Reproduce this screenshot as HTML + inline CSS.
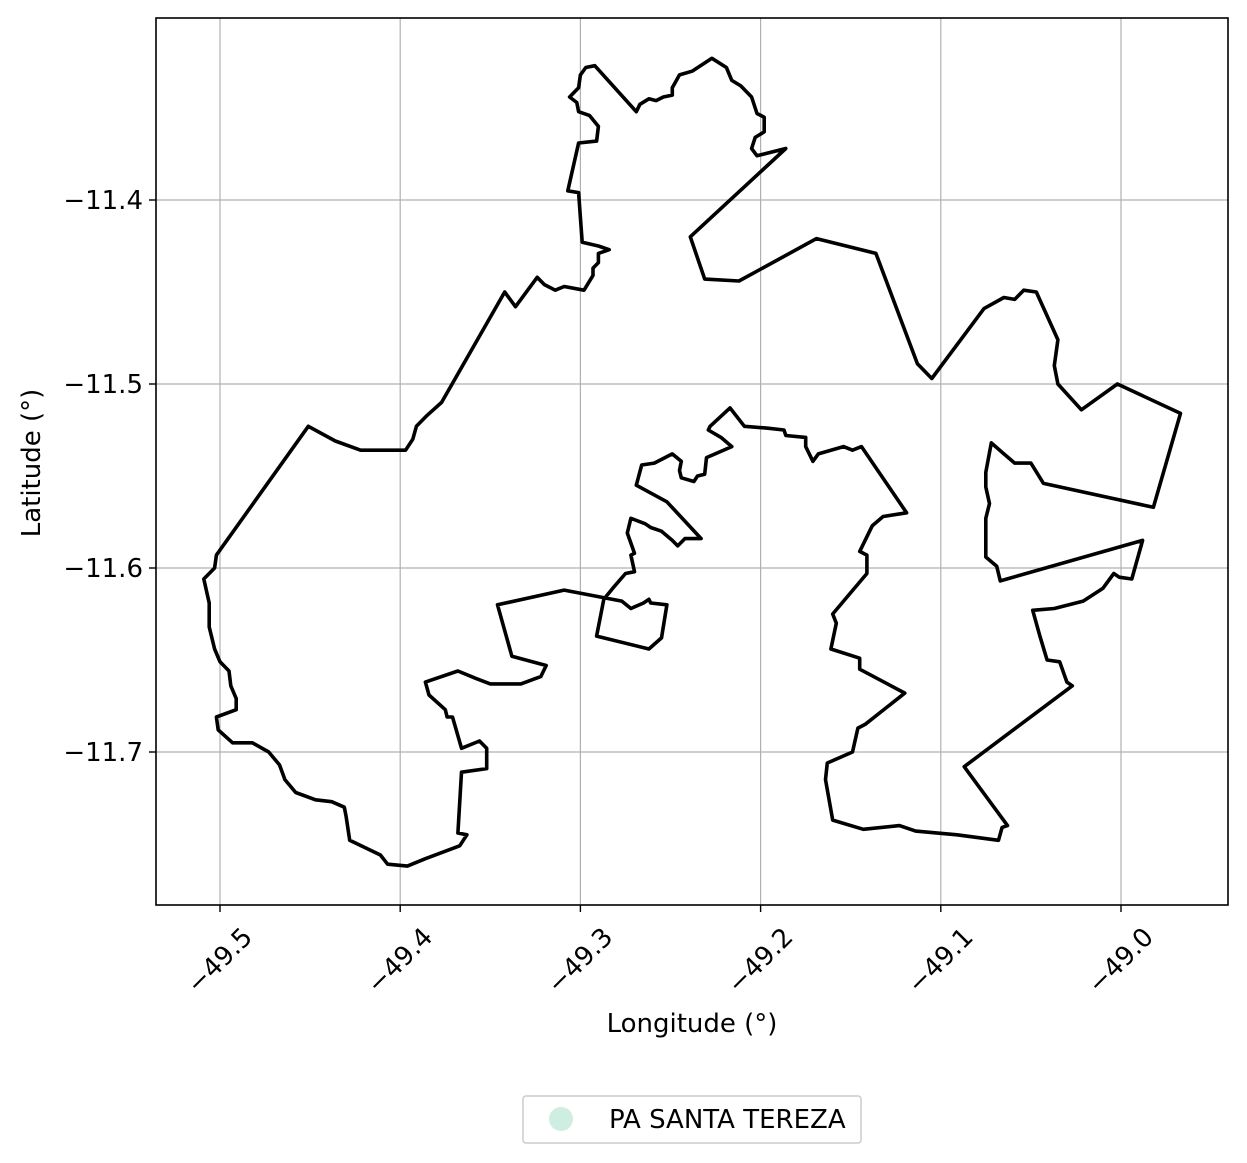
<!DOCTYPE html>
<html><head><meta charset="utf-8"><style>
html,body{margin:0;padding:0;background:#fff;}
svg{display:block;font-family:"DejaVu Sans","Liberation Sans",sans-serif;}
</style></head><body>
<svg id="chart" width="1247" height="1163" viewBox="0 0 1247 1163">
<rect x="0" y="0" width="1247" height="1163" fill="#fff"/>
<g id="grid"></g>
<g id="plot"></g>
<rect x="156" y="18" width="1072" height="887" fill="none" stroke="#000" stroke-width="1.6"/>
<g id="ticks"></g>
<text x="692" y="1032" font-size="26" text-anchor="middle">Longitude (°)</text>
<text x="40" y="463" font-size="26" text-anchor="middle" transform="rotate(-90 40 463)">Latitude (°)</text>
<g>
<rect x="523" y="1096" width="338" height="47" rx="3" fill="#fff" stroke="#ccc" stroke-width="1.5"/>
<circle cx="561" cy="1119" r="12" fill="#cdeee0"/>
<text x="609" y="1128" font-size="26">PA SANTA TEREZA</text>
</g>
</svg>
<script>
const xTicks = [-49.5, -49.4, -49.3, -49.2, -49.1, -49.0];
const xTickLabels = ["−49.5", "−49.4", "−49.3", "−49.2", "−49.1", "−49.0"];
const yTicks = [-11.4, -11.5, -11.6, -11.7];
const yTickLabels = ["−11.4", "−11.5", "−11.6", "−11.7"];
const boundaryLon = [-49.292,-49.269,-49.267,-49.262,-49.258,-49.254,-49.249,-49.249,-49.245,-49.238,-49.227,-49.219,-49.216,-49.211,-49.205,-49.202,-49.198,-49.198,-49.203,-49.205,-49.202,-49.186,-49.239,-49.231,-49.212,-49.169,-49.136,-49.113,-49.105,-49.076,-49.065,-49.059,-49.054,-49.047,-49.035,-49.037,-49.035,-49.022,-49.002,-48.967,-48.982,-49.043,-49.050,-49.059,-49.065,-49.072,-49.075,-49.075,-49.073,-49.075,-49.075,-49.069,-49.067,-48.988,-48.994,-49.001,-49.004,-49.010,-49.021,-49.037,-49.049,-49.045,-49.041,-49.034,-49.030,-49.027,-49.087,-49.063,-49.066,-49.068,-49.091,-49.114,-49.123,-49.143,-49.160,-49.164,-49.163,-49.149,-49.146,-49.142,-49.120,-49.145,-49.145,-49.161,-49.158,-49.160,-49.141,-49.141,-49.145,-49.138,-49.132,-49.119,-49.144,-49.149,-49.154,-49.168,-49.171,-49.175,-49.175,-49.186,-49.187,-49.196,-49.209,-49.217,-49.228,-49.229,-49.222,-49.216,-49.230,-49.231,-49.235,-49.237,-49.244,-49.245,-49.244,-49.249,-49.259,-49.266,-49.269,-49.252,-49.233,-49.242,-49.246,-49.249,-49.255,-49.261,-49.264,-49.272,-49.274,-49.270,-49.272,-49.270,-49.275,-49.282,-49.287,-49.291,-49.262,-49.255,-49.252,-49.261,-49.262,-49.265,-49.272,-49.277,-49.309,-49.346,-49.338,-49.319,-49.322,-49.333,-49.350,-49.358,-49.368,-49.386,-49.384,-49.375,-49.374,-49.371,-49.366,-49.356,-49.352,-49.352,-49.366,-49.368,-49.363,-49.367,-49.386,-49.396,-49.407,-49.411,-49.428,-49.430,-49.431,-49.438,-49.447,-49.458,-49.464,-49.467,-49.473,-49.482,-49.493,-49.501,-49.502,-49.491,-49.491,-49.494,-49.495,-49.500,-49.503,-49.506,-49.506,-49.509,-49.503,-49.502,-49.451,-49.436,-49.422,-49.397,-49.393,-49.391,-49.385,-49.377,-49.342,-49.336,-49.324,-49.320,-49.314,-49.309,-49.298,-49.293,-49.293,-49.290,-49.290,-49.284,-49.290,-49.299,-49.301,-49.307,-49.301,-49.291,-49.290,-49.295,-49.301,-49.302,-49.306,-49.301,-49.300,-49.297];
const boundaryLat = [-11.327,-11.352,-11.348,-11.345,-11.346,-11.344,-11.343,-11.339,-11.332,-11.330,-11.323,-11.328,-11.335,-11.338,-11.344,-11.353,-11.355,-11.363,-11.366,-11.372,-11.376,-11.372,-11.420,-11.443,-11.444,-11.421,-11.429,-11.489,-11.497,-11.459,-11.453,-11.454,-11.449,-11.450,-11.476,-11.490,-11.500,-11.514,-11.500,-11.516,-11.567,-11.554,-11.543,-11.543,-11.538,-11.532,-11.548,-11.556,-11.565,-11.573,-11.594,-11.599,-11.607,-11.585,-11.606,-11.605,-11.603,-11.611,-11.618,-11.622,-11.623,-11.637,-11.650,-11.651,-11.662,-11.664,-11.708,-11.740,-11.741,-11.748,-11.745,-11.743,-11.740,-11.742,-11.737,-11.715,-11.706,-11.700,-11.687,-11.685,-11.668,-11.655,-11.649,-11.644,-11.630,-11.625,-11.603,-11.593,-11.591,-11.577,-11.572,-11.570,-11.534,-11.536,-11.534,-11.538,-11.542,-11.534,-11.529,-11.528,-11.525,-11.524,-11.523,-11.513,-11.523,-11.525,-11.529,-11.534,-11.540,-11.549,-11.550,-11.553,-11.551,-11.547,-11.542,-11.538,-11.543,-11.544,-11.555,-11.564,-11.584,-11.584,-11.588,-11.585,-11.580,-11.578,-11.576,-11.573,-11.581,-11.592,-11.593,-11.602,-11.603,-11.611,-11.617,-11.637,-11.644,-11.638,-11.620,-11.619,-11.617,-11.619,-11.622,-11.618,-11.612,-11.620,-11.648,-11.653,-11.659,-11.663,-11.663,-11.660,-11.656,-11.662,-11.669,-11.677,-11.681,-11.681,-11.698,-11.694,-11.698,-11.709,-11.711,-11.744,-11.745,-11.751,-11.758,-11.762,-11.761,-11.756,-11.748,-11.735,-11.730,-11.727,-11.726,-11.722,-11.715,-11.707,-11.700,-11.695,-11.695,-11.688,-11.681,-11.677,-11.671,-11.664,-11.656,-11.651,-11.644,-11.632,-11.619,-11.606,-11.600,-11.593,-11.523,-11.531,-11.536,-11.536,-11.530,-11.523,-11.517,-11.510,-11.450,-11.458,-11.442,-11.446,-11.449,-11.447,-11.449,-11.441,-11.437,-11.434,-11.429,-11.427,-11.425,-11.423,-11.396,-11.395,-11.369,-11.368,-11.360,-11.354,-11.352,-11.347,-11.344,-11.339,-11.332,-11.328];

const NS = "http://www.w3.org/2000/svg";
function xScale(lon){ return 220 + (lon + 49.5) * 1802; }
function yScale(lat){ return 200 - (lat + 11.4) * 1840; }
function mk(tag, attrs, parent){ const e = document.createElementNS(NS, tag); for (const k in attrs) e.setAttribute(k, attrs[k]); parent.appendChild(e); return e; }

const grid = document.getElementById('grid');
const ticks = document.getElementById('ticks');
const plot = document.getElementById('plot');

xTicks.forEach((v, i) => {
  const x = xScale(v);
  const g = mk('line', {x1: x, x2: x, y1: 18, y2: 905, stroke: '#b0b0b0', 'stroke-width': 1.2}, grid);
  
  
  const t = mk('line', {x1: x, x2: x, y1: 905, y2: 912, stroke: '#000', 'stroke-width': 1.4}, ticks);
  
  
  const lb = mk('text', {x: x, y: 961, 'font-size': 26, 'text-anchor': 'middle', 'dominant-baseline': 'central', transform: 'rotate(-45 ' + x + ' 961)'}, ticks);
  lb.textContent = xTickLabels[i];
  
  
});
yTicks.forEach((v, i) => {
  const y = yScale(v);
  const g = mk('line', {x1: 156, x2: 1228, y1: y, y2: y, stroke: '#b0b0b0', 'stroke-width': 1.2}, grid);
  
  
  const t = mk('line', {x1: 149, x2: 156, y1: y, y2: y, stroke: '#000', 'stroke-width': 1.4}, ticks);
  
  
  const lb = mk('text', {x: 143, y: y + 9, 'font-size': 26, 'text-anchor': 'end'}, ticks);
  lb.textContent = yTickLabels[i];
  
  
});

const pts = boundaryLon.map((lon, i) => xScale(lon).toFixed(1) + ',' + yScale(boundaryLat[i]).toFixed(1)).join(' ');
const poly = mk('polygon', {points: pts, fill: 'none', stroke: '#000', 'stroke-width': 3.6, 'stroke-linejoin': 'round'}, plot);


</script>
</body></html>
